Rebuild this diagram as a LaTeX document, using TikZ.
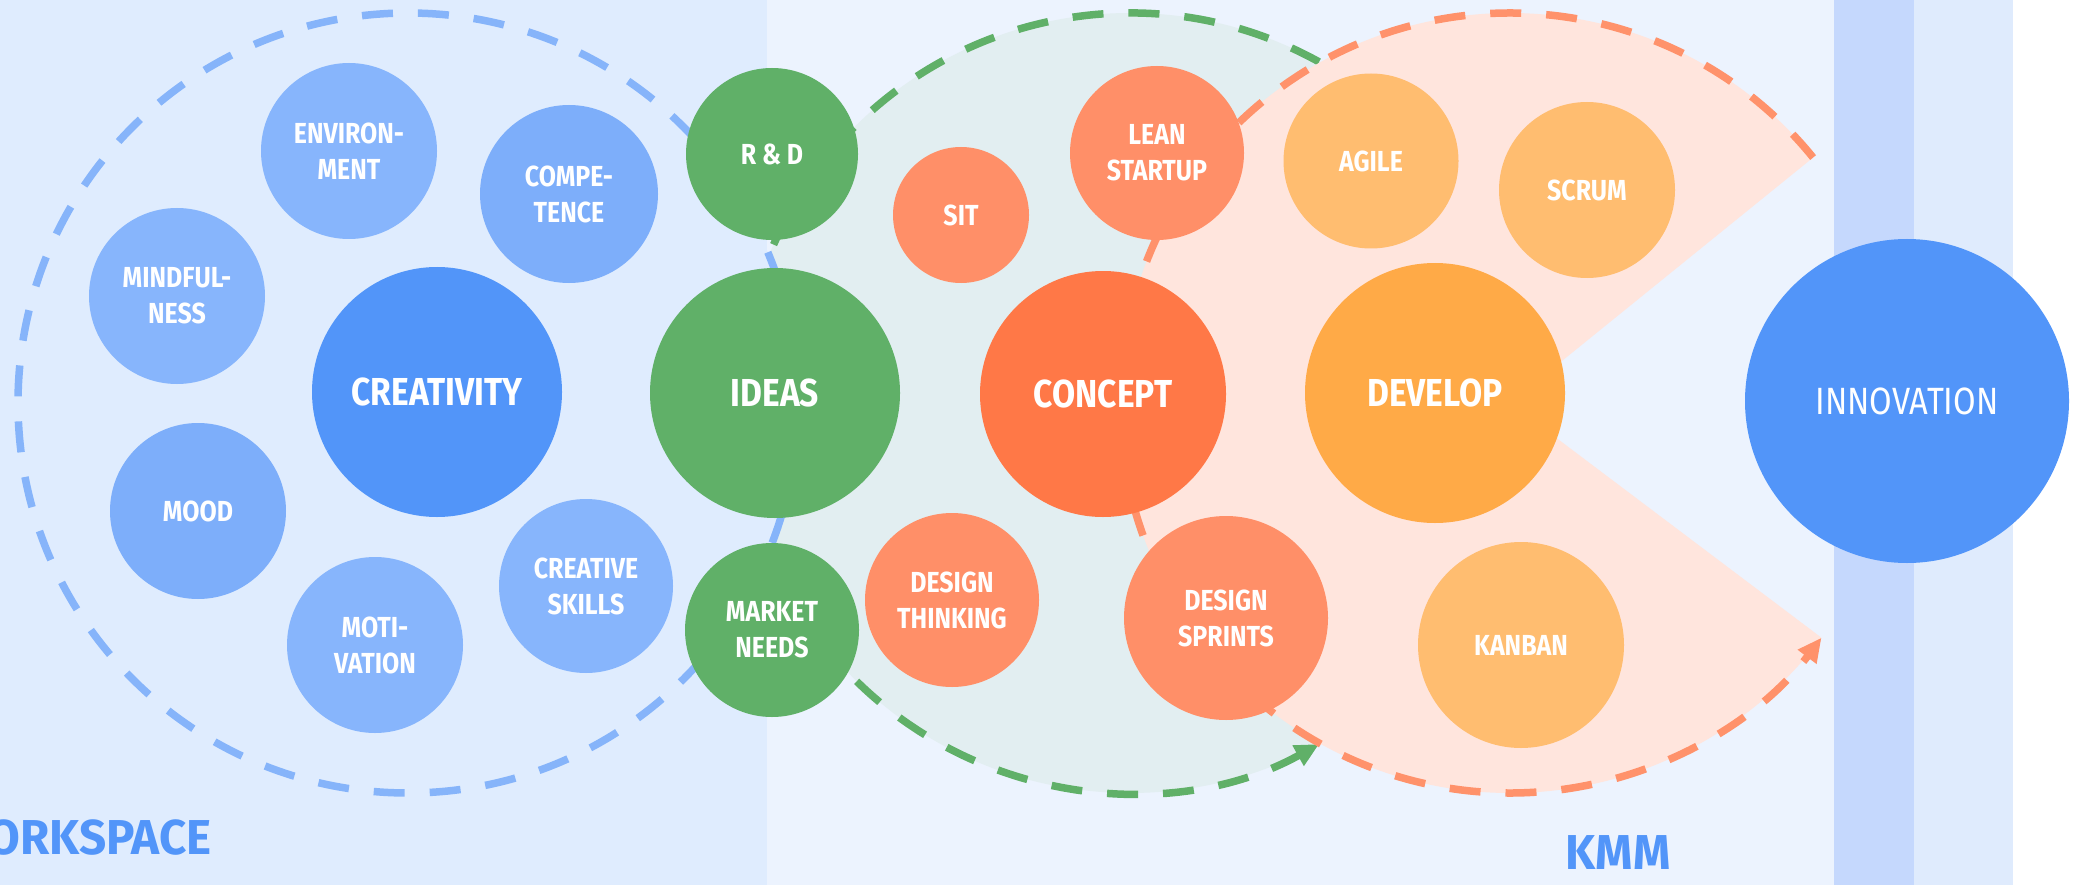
\documentclass[tikz,border=0pt]{standalone}
\usepackage{fontspec}
\setmainfont{Fira Sans}[FakeStretch=0.86]
\newfontfamily\areafont{Fira Sans}[FakeStretch=0.97]
\usetikzlibrary{arrows.meta}
\definecolor{panelL}{RGB}{223,236,254}
\definecolor{panelM}{RGB}{236,243,254}
\definecolor{stripeA}{RGB}{197,216,253}
\definecolor{stripeB}{RGB}{223,235,253}
\definecolor{greenFill}{RGB}{226,238,241}
\definecolor{orangeFill}{RGB}{255,229,221}
\definecolor{blueDash}{RGB}{134,180,250}
\definecolor{greenC}{RGB}{96,176,104}
\definecolor{orangeDash}{RGB}{255,146,107}
\definecolor{orangeC}{RGB}{255,143,104}
\definecolor{conceptC}{RGB}{255,120,71}
\definecolor{yellowC}{RGB}{255,189,112}
\definecolor{developC}{RGB}{255,170,71}
\definecolor{blueMain}{RGB}{82,149,249}
\definecolor{lightA}{RGB}{135,181,252}
\definecolor{lightB}{RGB}{125,174,250}
\newcommand\smalllab{\fontsize{29}{36}\selectfont\bfseries}
\newcommand\biglab{\fontsize{39}{44}\selectfont\bfseries}
\newcommand\innolab{\fontsize{38}{44}\selectfont}
\newcommand\arealab{\areafont\fontsize{49}{54}\selectfont\bfseries}
\begin{document}
\begin{tikzpicture}[x=1pt,y=-1pt,
  bubble/.style={circle, inner sep=0pt, text=white, align=center, font=\smalllab},
  bigbubble/.style={bubble, font=\biglab},
  ring/.style={line width=7.5pt, dash pattern=on 31pt off 25pt},
  tip/.style={-{Triangle[width=22pt,length=24pt]}},
  arealabel/.style={text=blueMain, font=\arealab, inner sep=0pt}]
\useasboundingbox (0,0) rectangle (2092,885);
% backgrounds
\fill[white] (0,0) rectangle (2092,885);
\fill[panelL] (0,0) rectangle (767,885);
\fill[panelM] (767,0) rectangle (1834,885);
\fill[stripeA] (1834,0) rectangle (1914,885);
\fill[stripeB] (1914,0) rectangle (2013,885);
% centres of the three loops
\coordinate (bc) at (408,403);
\coordinate (gc) at (1130,403);
\coordinate (oc) at (1510,403);
% green loop
\fill[greenFill] (gc) circle[radius=390];
\draw[greenC, ring, tip] (gc) ++(-61:390) arc[start angle=-61, end angle=-299, radius=390];
% blue loop
\fill[panelL] (bc) circle[radius=390];
\draw[blueDash, ring] (bc) circle[radius=390];
% orange loop
\fill[orangeFill] (oc) -- ++(-39:390) arc[start angle=-39, end angle=-323, radius=390] -- cycle;
\draw[orangeDash, ring, tip] (oc) ++(-39:390) arc[start angle=-39, end angle=-323, radius=390];
% creativity bubbles
\node[bigbubble, fill=blueMain, minimum size=250pt] (creat) at (437,392) {CREATIVITY};
\node[bubble, fill=lightA, minimum size=176pt] (env) at (349,151) {ENVIRON-\\MENT};
\node[bubble, fill=lightB, minimum size=178pt] (comp) at (569,194) {COMPE-\\TENCE};
\node[bubble, fill=lightA, minimum size=176pt] (mind) at (177,296) {MINDFUL-\\NESS};
\node[bubble, fill=lightB, minimum size=176pt] (mood) at (198,511) {MOOD};
\node[bubble, fill=lightA, minimum size=176pt] (moti) at (375,645) {MOTI-\\VATION};
\node[bubble, fill=lightA, minimum size=174pt] (cskill) at (586,586) {CREATIVE\\SKILLS};
% ideas
\node[bubble, fill=greenC, minimum size=172pt] (rd) at (772,154) {R \& D};
\node[bigbubble, fill=greenC, minimum size=250pt] (ideas) at (775,393) {IDEAS};
\node[bubble, fill=greenC, minimum size=174pt] (market) at (772,630) {MARKET\\NEEDS};
% concept
\node[bubble, fill=orangeC, minimum size=136pt] (sit) at (961,215) {SIT};
\node[bubble, fill=orangeC, minimum size=174pt] (dthink) at (952,600) {DESIGN\\THINKING};
\node[bubble, fill=orangeC, minimum size=174pt] (lean) at (1157,153) {LEAN\\STARTUP};
\node[bigbubble, fill=conceptC, minimum size=246pt] (concept) at (1103,394) {CONCEPT};
\node[bubble, fill=orangeC, minimum size=204pt] (dsprint) at (1226,618) {DESIGN\\SPRINTS};
% develop
\node[bubble, fill=yellowC, minimum size=175pt] (agile) at (1371,161) {AGILE};
\node[bubble, fill=yellowC, minimum size=176pt] (scrum) at (1587,190) {SCRUM};
\node[bigbubble, fill=developC, minimum size=260pt] (develop) at (1435,393) {DEVELOP};
\node[bubble, fill=yellowC, minimum size=206pt] (kanban) at (1521,645) {KANBAN};
% innovation
\node[bubble, font=\innolab, fill=blueMain, minimum size=324pt] (innov) at (1907,401) {INNOVATION};
% area labels
\node[arealabel, anchor=base east] (ws) at (212,854) {WORKSPACE};
\node[arealabel, anchor=base] (kmm) at (1618,869) {KMM};
\end{tikzpicture}
\end{document}
